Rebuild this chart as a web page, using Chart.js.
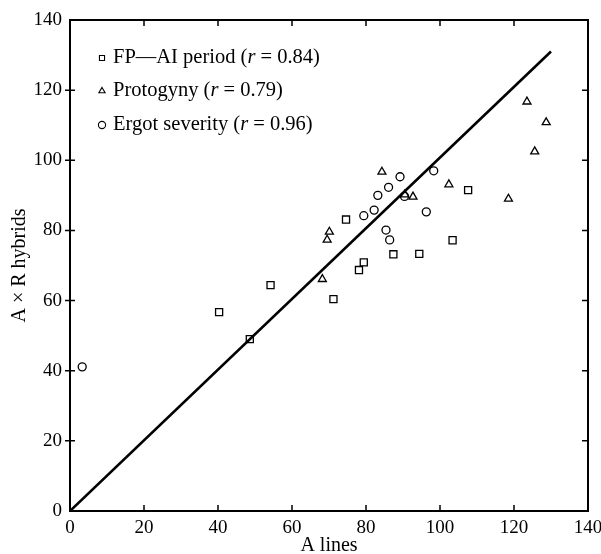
<!DOCTYPE html>
<html>
<head>
<meta charset="utf-8">
<script src="https://cdn.jsdelivr.net/npm/chart.js@4.4.0/dist/chart.umd.min.js"></script>
<style>
html, body { margin: 0; background: #fff; }
#wrap { width: 601px; height: 554px; }
</style>
</head>
<body>
<div id="wrap"><canvas id="scatterChart"></canvas></div>
<script>
// valores
var fpX = [40.3, 48.6, 54.2, 71.2, 74.6, 78.1, 79.4, 87.4, 94.4, 103.4, 107.6];
var fpY = [56.7, 49.0, 64.4, 60.4, 83.1, 68.7, 70.9, 73.2, 73.3, 77.2, 91.5];

var protoX = [68.2, 69.5, 70.1, 84.3, 90.5, 92.7, 102.4, 118.5, 123.5, 125.6, 128.7];
var protoY = [66.1, 77.3, 79.6, 96.7, 90.2, 89.6, 93.1, 89.0, 116.7, 102.5, 110.8];

var ergotX = [3.3, 79.4, 82.2, 83.2, 85.4, 86.1, 86.4, 89.2, 90.4, 96.3, 98.3];
var ergotY = [41.1, 84.2, 85.8, 90.0, 80.1, 92.3, 77.3, 95.3, 89.7, 85.3, 97.0];

var lineX = [0, 130];
var lineY = [0, 131];

var legendNames = ['FP\u2014AI period', 'Protogyny', 'Ergot severity'];
var legendR = ['0.84', '0.79', '0.96'];

var axisMin = 0;
var axisMax = 140;
var axisStep = 20;

var serif = "'Liberation Serif', 'DejaVu Serif', serif";

function toPoints(xs, ys) {
    var pts = [];
    for (var i = 0; i < xs.length; i++) {
        pts.push({ x: xs[i], y: ys[i] });
    }
    return pts;
}

function markerSet(label, xs, ys, style, radius) {
    return {
        label: label,
        data: toPoints(xs, ys),
        pointStyle: style,
        pointRadius: radius,
        pointBorderWidth: 1.3,
        pointBorderColor: '#000',
        pointBackgroundColor: 'rgba(0,0,0,0)',
        showLine: false
    };
}

// caixa com marcas de escala voltadas para dentro
var framePlugin = {
    id: 'frame',
    afterDatasetsDraw: function (chart) {
        var ctx = chart.ctx;
        var a = chart.chartArea;
        var xs = chart.scales.x;
        var ys = chart.scales.y;
        ctx.save();
        ctx.strokeStyle = '#000';
        ctx.lineWidth = 2;
        ctx.strokeRect(a.left, a.top, a.right - a.left, a.bottom - a.top);
        ctx.lineWidth = 1.5;
        ctx.beginPath();
        xs.ticks.forEach(function (t) {
            if (t.value === axisMin || t.value === axisMax) return;
            var px = xs.getPixelForValue(t.value);
            ctx.moveTo(px, a.bottom);
            ctx.lineTo(px, a.bottom - 6);
            ctx.moveTo(px, a.top);
            ctx.lineTo(px, a.top + 6);
        });
        ys.ticks.forEach(function (t) {
            if (t.value === axisMin || t.value === axisMax) return;
            var py = ys.getPixelForValue(t.value);
            ctx.moveTo(a.left - 5, py);
            ctx.lineTo(a.left + 5, py);
            ctx.moveTo(a.right, py);
            ctx.lineTo(a.right - 6, py);
        });
        ctx.stroke();
        ctx.restore();
    }
};

// legenda com r em itálico
var legendPlugin = {
    id: 'italicLegend',
    afterDraw: function (chart) {
        var ctx = chart.ctx;
        var x0 = 102;
        var rows = [58, 91, 125];
        ctx.save();
        ctx.textBaseline = 'middle';
        for (var i = 0; i < legendNames.length; i++) {
            var ds = chart.data.datasets[i];
            ctx.fillStyle = '#fff';
            ctx.strokeStyle = '#000';
            ctx.lineWidth = 1.1;
            Chart.helpers.drawPoint(ctx, {
                pointStyle: ds.pointStyle,
                radius: 3.6,
                rotation: 0,
                borderWidth: 1.1
            }, x0, rows[i]);
            ctx.fillStyle = '#000';
            var tx = 113;
            var parts = [
                [legendNames[i] + ' (', 'normal'],
                ['r', 'italic'],
                [' = ' + legendR[i] + ')', 'normal']
            ];
            for (var j = 0; j < parts.length; j++) {
                ctx.font = parts[j][1] + ' 20.5px ' + serif;
                ctx.fillText(parts[j][0], tx, rows[i]);
                tx += ctx.measureText(parts[j][0]).width;
            }
        }
        ctx.restore();
    }
};

Chart.defaults.font.family = serif;

var ctx = document.getElementById('scatterChart').getContext('2d');

var chart = new Chart(ctx, {
    type: 'scatter',
    data: {
        datasets: [
            markerSet(legendNames[0], fpX, fpY, 'rect', 5),
            markerSet(legendNames[1], protoX, protoY, 'triangle', 4.6),
            markerSet(legendNames[2], ergotX, ergotY, 'circle', 4),
            {
                label: 'fit',
                data: toPoints(lineX, lineY),
                showLine: true,
                borderColor: '#000',
                borderWidth: 2.6,
                pointRadius: 0
            }
        ]
    },
    options: {
        responsive: true,
        maintainAspectRatio: false,
        animation: false,
        layout: { padding: { top: 20, right: 13, left: 0, bottom: 0 } },
        plugins: {
            legend: { display: false },
            tooltip: { enabled: false }
        },
        scales: {
            x: {
                type: 'linear',
                min: axisMin,
                max: axisMax,
                ticks: { stepSize: axisStep, padding: 6, color: '#000', font: { size: 19, family: serif } },
                grid: { display: false, drawTicks: false },
                border: { display: false },
                title: { display: true, text: 'A lines', color: '#000', padding: { top: 0, bottom: -4 }, font: { size: 20, family: serif } },
                afterFit: function (scale) {
                    scale.height = 43;
                    scale.paddingLeft = 0;
                    scale.paddingRight = 0;
                }
            },
            y: {
                type: 'linear',
                min: axisMin,
                max: axisMax,
                ticks: { stepSize: axisStep, padding: 8, color: '#000', font: { size: 19, family: serif } },
                grid: { display: false, drawTicks: false },
                border: { display: false },
                title: { display: true, text: 'A \u00d7 R hybrids', color: '#000', padding: { top: 8, bottom: 0 }, font: { size: 20, family: serif } },
                afterFit: function (scale) {
                    scale.width = 70;
                    scale.paddingTop = 0;
                    scale.paddingBottom = 0;
                }
            }
        }
    },
    plugins: [framePlugin, legendPlugin]
});
</script>
</body>
</html>
